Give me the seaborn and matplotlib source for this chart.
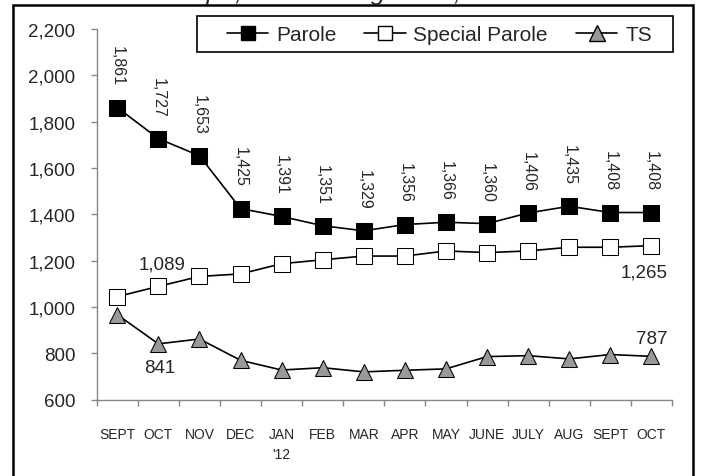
import numpy as np
import pandas as pd
import matplotlib
matplotlib.use('Agg')
import matplotlib.pyplot as plt
import seaborn as sns
from matplotlib.patches import Rectangle
from matplotlib.lines import Line2D

# chart values
months = ['SEPT', 'OCT', 'NOV', 'DEC', "JAN\n'12", 'FEB', 'MAR', 'APR', 'MAY',
          'JUNE', 'JULY', 'AUG', 'SEPT', 'OCT']
parole = [1861, 1727, 1653, 1425, 1391, 1351, 1329, 1356, 1366, 1360, 1406, 1435, 1408, 1408]
special_parole = [1045, 1089, 1132, 1143, 1187, 1204, 1220, 1220, 1242, 1235, 1242, 1258, 1258, 1265]
ts = [967, 841, 862, 770, 728, 738, 720, 727, 733, 786, 790, 776, 795, 787]
yticks = [600, 800, 1000, 1200, 1400, 1600, 1800, 2000, 2200]

sns.set_theme(style='white')
plt.rcParams['font.family'] = ['Liberation Sans', 'DejaVu Sans']

fig = plt.figure(figsize=(7.01, 4.77), dpi=100)
ax = fig.add_axes([0.138, 0.160, 0.8206, 0.777])

x = np.arange(len(months))
df = pd.DataFrame({'x': x, 'Parole': parole, 'Special Parole': special_parole, 'TS': ts})

sns.lineplot(data=df, x='x', y='Parole', ax=ax, color='black', lw=1.2,
             marker='s', markersize=11, markerfacecolor='black', markeredgecolor='black')
sns.lineplot(data=df, x='x', y='Special Parole', ax=ax, color='black', lw=1.2,
             marker='s', markersize=11, markerfacecolor='white', markeredgecolor='black')
sns.lineplot(data=df, x='x', y='TS', ax=ax, color='black', lw=1.2,
             marker='^', markersize=12, markerfacecolor='#999999', markeredgecolor='black')

# rotated labels over Parole
for i, v in enumerate(parole):
    ax.annotate(f'{v:,}', (i, v), xytext=(0, 16), textcoords='offset points',
                rotation=270, ha='center', va='bottom', fontsize=11.5)

ax.annotate(f'{special_parole[1]:,}', (1, special_parole[1]), xytext=(3, 16),
            textcoords='offset points', ha='center', va='center', fontsize=13.5)
ax.annotate(f'{special_parole[-1]:,}', (13, special_parole[-1]), xytext=(-5, -19),
            textcoords='offset points', ha='center', va='center', fontsize=13.5)
ax.annotate(f'{ts[1]:,}', (1, ts[1]), xytext=(1, -17),
            textcoords='offset points', ha='center', va='center', fontsize=13.5)
ax.annotate(f'{ts[-1]:,}', (13, ts[-1]), xytext=(0, 13),
            textcoords='offset points', ha='center', va='center', fontsize=13.5)

ax.set_xlim(-0.5, len(months) - 0.5)
ax.set_ylim(600, 2200)
ax.set_yticks(yticks)
ax.set_yticklabels([f'{t:,}' for t in yticks], fontsize=13.5)
ax.set_xticks(x)
ax.set_xticklabels(months, fontsize=10, linespacing=1.5)
ax.set_xticks(np.arange(-0.5, len(months)), minor=True)
ax.tick_params(axis='x', which='major', length=0, pad=20)
ax.tick_params(axis='x', which='minor', length=4.5, width=1, color='#888888', direction='out', bottom=True)
ax.tick_params(axis='y', length=4.5, width=1, color='#888888', direction='out', left=True, pad=11)
ax.set_xlabel('')
ax.set_ylabel('')
for s in ['top', 'right']:
    ax.spines[s].set_visible(False)
for s in ['left', 'bottom']:
    ax.spines[s].set_color('#888888')
    ax.spines[s].set_linewidth(1)

handles = [
    Line2D([], [], color='black', lw=1.2, marker='s', markersize=9.5, markerfacecolor='black'),
    Line2D([], [], color='black', lw=1.2, marker='s', markersize=9.5, markerfacecolor='white'),
    Line2D([], [], color='black', lw=1.2, marker='^', markersize=11, markerfacecolor='#999999'),
]
leg = fig.legend(handles, ['Parole', 'Special Parole', 'TS'], ncol=3, loc='center left',
                 bbox_to_anchor=(227 / 701, 1 - 35.5 / 477), bbox_transform=fig.transFigure,
                 borderaxespad=0, borderpad=0, frameon=False, fontsize=15,
                 handlelength=1.97, handletextpad=0.38, columnspacing=1.35)
# legend box
fig.patches.append(Rectangle((197 / 701, 1 - 53 / 477), (673 - 197) / 701, 36 / 477,
                             transform=fig.transFigure, fill=True, facecolor='white',
                             edgecolor='black', lw=1.2, zorder=2))
leg.set_zorder(3)

# cut-off title and outer frame
fig.text(175 / 701, 1.0, 'Sept., 2011 through Oct., 2012', ha='left', va='baseline',
         fontsize=18.5, style='italic')
fig.patches.append(Rectangle((13 / 701, -0.1), (693 - 13) / 701, 1.1 - 6 / 477,
                             transform=fig.transFigure, fill=False, edgecolor='black', lw=1.8))

fig.savefig('out.png', dpi=100)
